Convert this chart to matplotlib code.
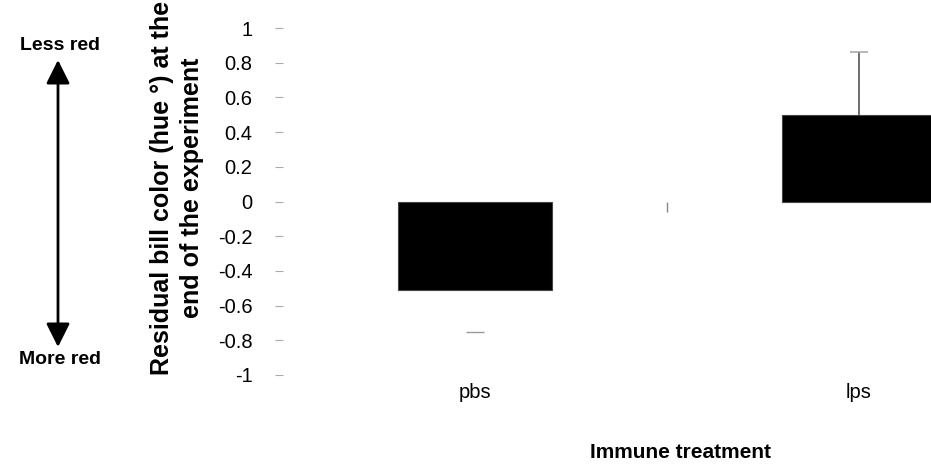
import numpy as np
import matplotlib.pyplot as plt

plt.rcParams['font.family'] = ['Liberation Sans', 'DejaVu Sans']

# data
groups = ['pbs', 'lps']
means = [-0.51, 0.50]
errors = [0.24, 0.36]
yticks = [1, 0.8, 0.6, 0.4, 0.2, 0, -0.2, -0.4, -0.6, -0.8, -1]

fig = plt.figure(figsize=(9.31, 4.72), dpi=100)
ax = fig.add_axes([283 / 931, 97 / 472, 768 / 931, 347 / 472])

x = np.arange(len(groups))
ax.bar(x, means, width=0.4, color='black', edgecolor='#444444', linewidth=0.8, zorder=2)

# lps: error line, pbs: only the cap shows in the original
ax.errorbar(x[1], means[1], yerr=[[0], [errors[1]]], fmt='none',
            ecolor='#555555', elinewidth=1.2, capsize=0, zorder=1)
ax.plot(x[1], means[1] + errors[1], marker='_', markersize=13,
        color='#aaaaaa', markeredgewidth=1.2)
ax.plot(x[0], means[0] - errors[0], marker='_', markersize=13,
        color='#999999', markeredgewidth=1)

ax.set_xlim(-0.5, 1.5)
ax.set_ylim(-1, 1)
ax.set_yticks(yticks)
ax.set_yticklabels([f'{v:g}' for v in yticks], fontsize=14.5)
ax.tick_params(axis='y', length=6, color='#aaaaaa', width=0.8, pad=16)

# x axis sits on zero: only a small separator tick between categories
ax.spines['bottom'].set_position(('data', 0))
ax.set_xticks([0.5])
ax.set_xticklabels([''])
ax.tick_params(axis='x', length=7, color='#888888', width=1)

# category labels along the bottom
sec = ax.secondary_xaxis('bottom')
sec.set_xticks(x)
sec.set_xticklabels(groups, fontsize=14.5)
sec.tick_params(length=0, pad=6)
for s in sec.spines.values():
    s.set_visible(False)

for s in ax.spines.values():
    s.set_visible(False)

fig.text(680 / 931, 1 - 453 / 472, 'Immune treatment', fontsize=15,
         fontweight='bold', ha='center', va='center')

fig.text(177 / 931, 1 - 188 / 472,
         'Residual bill color (hue °) at the\nend of the experiment',
         rotation=90, fontsize=18, fontweight='bold', ha='center', va='center',
         linespacing=1.3)

# Less red / More red arrow
fig.text(60 / 931, 1 - 45 / 472, 'Less red', fontsize=14, fontweight='bold',
         ha='center', va='center')
fig.text(60 / 931, 1 - 360 / 472, 'More red', fontsize=14, fontweight='bold',
         ha='center', va='center')
ax.annotate('', xy=(58 / 931, 1 - 60 / 472), xytext=(58 / 931, 1 - 347 / 472),
            xycoords='figure fraction', textcoords='figure fraction',
            arrowprops=dict(arrowstyle='<|-|>', color='black', lw=2,
                            mutation_scale=36, shrinkA=0, shrinkB=0))

fig.savefig('out.png', dpi=100)
